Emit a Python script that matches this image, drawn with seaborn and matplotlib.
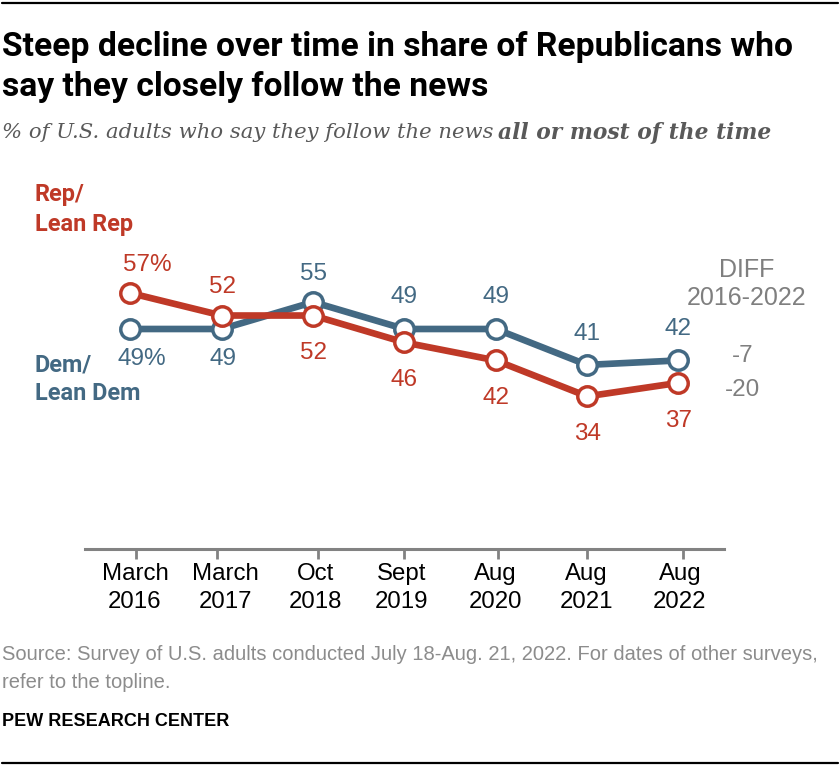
# Pew chart: share following the news closely, by party

import pandas as pd
import seaborn as sns
import matplotlib.pyplot as plt
from matplotlib.transforms import ScaledTranslation

# Data
surveys = ['March\n2016', 'March\n2017', 'Oct\n2018', 'Sept\n2019', 'Aug\n2020', 'Aug\n2021', 'Aug\n2022']
dem_values = [49, 49, 55, 49, 49, 41, 42]
rep_values = [57, 52, 52, 46, 42, 34, 37]
dem_labels = ['49%', '49', '55', '49', '49', '41', '42']
rep_labels = ['57%', '52', '52', '46', '42', '34', '37']
diff_values = ['-7', '-20']

RED = '#bf3927'
BLUE = '#436983'
GREY = '#7f7f7f'

W, H = 840, 768


def px(x, y):
    # pixel position on the picture -> figure coords
    return x / W, 1 - y / H


sns.set_theme(style='white')
plt.rcParams['font.family'] = ['Liberation Sans', 'DejaVu Sans']

dataset = pd.DataFrame({
    'pos': list(range(len(surveys))) * 2,
    'value': dem_values + rep_values,
    'party': ['Dem'] * len(surveys) + ['Rep'] * len(surveys),
})

fig = plt.figure(figsize=(W / 100, H / 100), dpi=100)
ax = fig.add_axes([85 / W, 1 - 549 / H, (724 - 85) / W, 300 / H])

sns.lineplot(data=dataset, x='pos', y='value', hue='party', palette={'Dem': BLUE, 'Rep': RED},
             marker='o', markersize=14, markerfacecolor='white', markeredgewidth=2.5,
             linewidth=4.8, legend=False, ax=ax, clip_on=False)
# seaborn overrides the edge colour, so put it back per line
for line, col in zip(ax.lines, [BLUE, RED]):
    line.set_markeredgecolor(col)

ax.set_xlim(-0.498, 6.499)
ax.set_ylim(0, 300 / 4.49)
ax.set_xlabel('')
ax.set_ylabel('')
ax.set_yticks([])

# tick marks sit near the labels, not quite under the points
tick_pos = [0.06, 0.95, 2.05, 2.99, 4.02, 5.0, 6.05]
ax.set_xticks(tick_pos)
ax.set_xticklabels(surveys, fontsize=17.3, color='black', linespacing=1.36)
ax.tick_params(axis='x', length=7, width=2, color='#828282', pad=3, bottom=True)
label_dx = [-1, 8, -2, -2, -2, -1, -3]
for lab, dx in zip(ax.get_xticklabels(), label_dx):
    lab.set_transform(lab.get_transform() + ScaledTranslation(dx / 100, 0, fig.dpi_scale_trans))
for s in ['top', 'left', 'right']:
    ax.spines[s].set_visible(False)
ax.spines['bottom'].set_color('#828282')
ax.spines['bottom'].set_linewidth(2.2)

# value labels, offsets in pixels from the point
dem_dy = [-30, -30, 28, 32, 32, 31, 31]
dem_dx = [11, 1, 0, 0, 0, 0, 0]
rep_dy = [28, 29, -37, -38, -38, -38, -38]
rep_dx = [17, 1, 0, 0, 0, 0, 0]
for i in range(len(surveys)):
    ax.annotate(dem_labels[i], (i, dem_values[i]), xytext=(dem_dx[i] / 1.389, dem_dy[i] / 1.389),
                textcoords='offset points', ha='center', va='center', fontsize=17.5, color=BLUE)
    ax.annotate(rep_labels[i], (i, rep_values[i]), xytext=(rep_dx[i] / 1.389, rep_dy[i] / 1.389),
                textcoords='offset points', ha='center', va='center', fontsize=17.5, color=RED)

# rules
fig.add_artist(plt.Line2D([2 / W, 838 / W], [1 - 3 / H] * 2, color='black', lw=1.6))
fig.add_artist(plt.Line2D([2 / W, 838 / W], [1 - 763 / H] * 2, color='black', lw=1.6))

# headline text
x, y = px(2, 47)
fig.text(x, y, 'Steep decline over time in share of Republicans who', fontsize=24.25, fontweight='bold',
         color='black', va='center', family='Roboto')
x, y = px(2, 87)
fig.text(x, y, 'say they closely follow the news', fontsize=24.25, fontweight='bold',
         color='black', va='center', family='Roboto')
x, y = px(2, 133)
fig.text(x, y, '% of U.S. adults who say they follow the news', fontsize=15.2, style='italic',
         color='#595959', va='center', family='DejaVu Serif')
x, y = px(498, 133)
fig.text(x, y, 'all or most of the time', fontsize=15.7, style='italic', fontweight='bold',
         color='#595959', va='center', family='DejaVu Serif')

# series names
x, y = px(35, 194)
fig.text(x, y, 'Rep/', fontsize=16.9, fontweight='bold', color=RED, va='center', family='Roboto')
x, y = px(35, 224)
fig.text(x, y, 'Lean Rep', fontsize=16.9, fontweight='bold', color=RED, va='center', family='Roboto')
x, y = px(35, 365)
fig.text(x, y, 'Dem/', fontsize=16.9, fontweight='bold', color=BLUE, va='center', family='Roboto')
x, y = px(35, 393)
fig.text(x, y, 'Lean Dem', fontsize=16.9, fontweight='bold', color=BLUE, va='center', family='Roboto')

# diff column
x, y = px(747, 270)
fig.text(x, y, 'DIFF', fontsize=18, color=GREY, ha='center', va='center')
x, y = px(747, 298)
fig.text(x, y, '2016-2022', fontsize=18, color=GREY, ha='center', va='center')
x, y = px(743, 356)
fig.text(x, y, diff_values[0], fontsize=17.5, color=GREY, ha='center', va='center')
x, y = px(743, 390)
fig.text(x, y, diff_values[1], fontsize=17.5, color=GREY, ha='center', va='center')

# footer
x, y = px(2, 654.5)
fig.text(x, y, 'Source: Survey of U.S. adults conducted July 18-Aug. 21, 2022. For dates of other surveys,',
         fontsize=14.48, color='#8c8c8c', va='center')
x, y = px(2, 682.5)
fig.text(x, y, 'refer to the topline.', fontsize=14.48, color='#8c8c8c', va='center')
x, y = px(2, 721)
fig.text(x, y, 'PEW RESEARCH CENTER', fontsize=13, fontweight='bold', color='black', va='center')

plt.savefig('out.png', dpi=100)
